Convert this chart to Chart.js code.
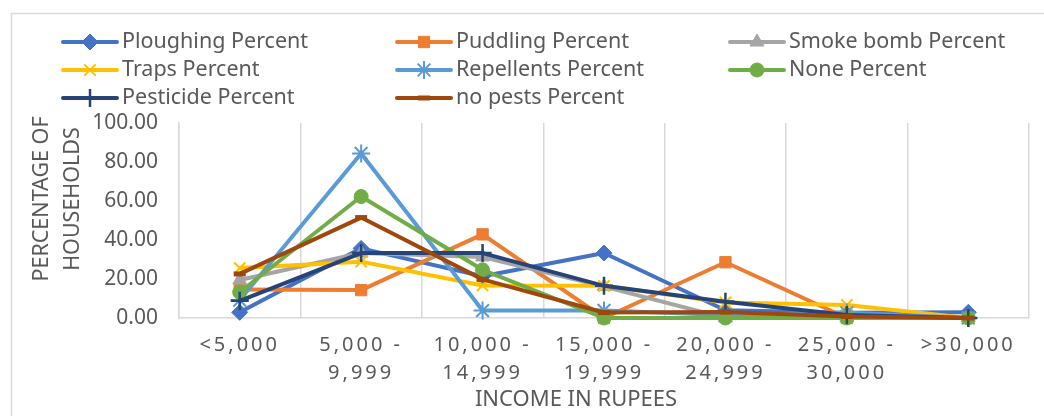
<!DOCTYPE html>
<html>
<head>
<meta charset="utf-8">
<script src="https://cdn.jsdelivr.net/npm/chart.js@4.4.0/dist/chart.umd.min.js"></script>
<style>
body{margin:0;background:#fff;}
#wrap{width:1044px;height:416px;position:relative;}
</style>
</head>
<body>
<div id="wrap"><canvas id="chart"></canvas></div>
<script>
// --- data ---
const incomeLabels=[["<5,000"],["5,000 -","9,999"],["10,000 -","14,999"],["15,000 -","19,999"],["20,000 -","24,999"],["25,000 -","30,000"],[">30,000"]];
const seriesNames=["Ploughing Percent","Puddling Percent","Smoke bomb Percent","Traps Percent","Repellents Percent","None Percent","Pesticide Percent","no pests Percent"];
const ploughing=[2.9,35.7,21.4,33.3,4.0,2.7,2.9];
const puddling=[14.6,14.3,42.9,0,28.6,0,0];
const smokeBomb=[19.5,33.3,31.3,16.1,0,0,0];
const traps=[25.6,28.9,16.7,16.5,8.0,6.7,0];
const repellents=[9.2,84.4,3.8,3.9,1.6,2.7,0];
const noneUsed=[13.2,62.3,24.7,0,0,0,0];
const pesticide=[8.8,33.3,33.3,16.5,8.3,1.5,0];
const noPests=[22.6,51.5,19.8,2.8,3.1,0.8,0];
const yTicks=[0,20,40,60,80,100];

// styles
const colors=["#4472C4","#ED7D31","#A5A5A5","#FFC000","#5B9BD5","#70AD47","#264478","#9E480E"];
const markers=["rectRot","rect","triangle","crossRot","star","circle","cross","line"];
const markerSize=[8,8,8,8,9,7,9,6];
const markerBorder=[1,1,1,2,2,1,2.5,5];
const allSeries=[ploughing,puddling,smokeBomb,traps,repellents,noneUsed,pesticide,noPests];

const FONT='"Noto Sans", "Liberation Sans", sans-serif';
const TXT='#595959';
const GRID='#d9d9d9';

// cadre + titres des axes
const decor={
  id:'decor',
  beforeDraw(chart){
    const ctx=chart.ctx;
    ctx.save();
    ctx.strokeStyle=GRID; ctx.lineWidth=1.5;
    ctx.strokeRect(11.5,13.5,1200,600);
    ctx.restore();
    // letter spacing pour les labels de l'axe x
    const sx=chart.scales.x;
    if(sx && !sx._spaced){
      const orig=sx.drawLabels;
      sx.drawLabels=function(a){ this.ctx.save(); this.ctx.letterSpacing='3px'; orig.call(this,a); this.ctx.restore(); };
      sx._spaced=true;
    }
  },
  afterDraw(chart){
    const ctx=chart.ctx;
    ctx.save();
    ctx.fillStyle=TXT;
    ctx.textAlign='center'; ctx.textBaseline='middle';
    ctx.font='22px '+FONT;
    ctx.fillText("INCOME IN RUPEES",576,400);
    ctx.font='21.5px '+FONT;
    ctx.translate(0,199);
    ctx.rotate(-Math.PI/2);
    ctx.fillText("PERCENTAGE OF",0,42);
    ctx.fillText("HOUSEHOLDS",0,73);
    ctx.restore();
  }
};

// légende dessinée à la main (3 colonnes)
const legendBox={
  id:'legendBox',
  afterDraw(chart){
    const ctx=chart.ctx;
    const colX=[63,397,730], rowY=[42,70,98];
    chart.data.datasets.forEach((ds,i)=>{
      let x=colX[i%3], y=rowY[Math.floor(i/3)];
      ctx.save();
      ctx.strokeStyle=ds.borderColor; ctx.lineWidth=4; ctx.lineCap='round';
      ctx.beginPath(); ctx.moveTo(x,y); ctx.lineTo(x+54,y); ctx.stroke();
      ctx.fillStyle=ds.borderColor; ctx.lineWidth=ds.pointBorderWidth; ctx.lineCap='butt';
      Chart.helpers.drawPoint(ctx,{pointStyle:ds.pointStyle,radius:ds.pointRadius,borderWidth:ds.pointBorderWidth,rotation:0},x+27,y);
      ctx.fillStyle=TXT;
      ctx.font='21.5px '+FONT;
      ctx.textAlign='left'; ctx.textBaseline='middle';
      ctx.fillText(ds.label,x+59,y);
      ctx.restore();
    });
  }
};

let datasets=seriesNames.map((name,i)=>({
  label:name,
  data:allSeries[i],
  borderColor:colors[i],
  backgroundColor:colors[i],
  borderWidth:4,
  borderCapStyle:'round',
  borderJoinStyle:'round',
  pointStyle:markers[i],
  pointRadius:markerSize[i],
  pointHoverRadius:markerSize[i],
  pointBorderWidth:markerBorder[i],
  pointBackgroundColor:colors[i],
  pointBorderColor:colors[i],
  tension:0,
  clip:false,
  order:seriesNames.length-i  // dernière série dessinée au-dessus (comme Excel)
}));

new Chart(document.getElementById("chart").getContext("2d"),{
  type:'line',
  data:{labels:incomeLabels,datasets:datasets},
  options:{
    responsive:true,
    maintainAspectRatio:false,
    animation:false,
    layout:{padding:{top:123,right:15,bottom:0,left:0}},
    plugins:{legend:{display:false},tooltip:{enabled:false}},
    scales:{
      x:{
        offset:true,
        grid:{display:true,offset:true,color:GRID,lineWidth:1.5,drawTicks:false},
        border:{display:true,color:GRID,width:1.5},
        ticks:{color:TXT,font:{family:FONT,size:20,lineHeight:1.4},padding:13,maxRotation:0,autoSkip:false},
        afterFit(s){ s.height=98; }
      },
      y:{
        min:0,max:100,
        afterBuildTicks(s){ s.ticks=yTicks.map(v=>({value:v})); },
        grid:{display:false,drawTicks:false},
        border:{display:true,color:GRID,width:1.5},
        ticks:{color:TXT,font:{family:FONT,size:21},padding:21,callback:v=>v.toFixed(2)},
        afterFit(s){ s.width=179; }
      }
    }
  },
  plugins:[decor,legendBox]
});
</script>
</body>
</html>
